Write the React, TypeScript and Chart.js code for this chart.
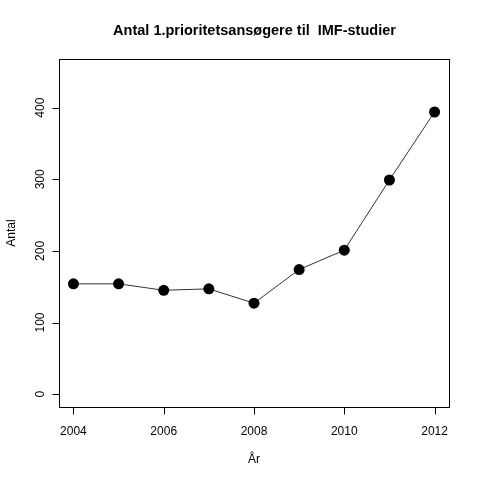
import React, { useEffect, useRef } from "react";
import { Chart, registerables } from "chart.js";

Chart.register(...registerables);

const years = [2004, 2005, 2006, 2007, 2008, 2009, 2010, 2011, 2012];
const applicants = [154, 154, 145, 147, 127, 174, 201, 299, 394];
const xTicks = [2004, 2006, 2008, 2010, 2012];
const yTicks = [0, 100, 200, 300, 400];
const title = "Antal 1.prioritetsansøgere til  IMF-studier";
const xTitle = "År";
const yTitle = "Antal";

const FONT = "'Liberation Sans', Arial, Helvetica, sans-serif";

const rAxesPlugin = {
  id: "rAxes",
  afterDraw(chart: any) {
    const { ctx, chartArea } = chart;
    const xs = chart.scales.x;
    const ys = chart.scales.y;
    ctx.save();
    ctx.strokeStyle = "#000";
    ctx.lineWidth = 1;
    ctx.strokeRect(
      Math.round(chartArea.left) + 0.5,
      Math.round(chartArea.top) + 0.5,
      Math.round(chartArea.right - chartArea.left),
      Math.round(chartArea.bottom - chartArea.top)
    );
    ctx.fillStyle = "#000";
    ctx.font = `12px ${FONT}`;
    // x axis
    const xb = Math.round(chartArea.bottom) + 0.5;
    ctx.beginPath();
    for (const t of xTicks) {
      const px = Math.round(xs.getPixelForValue(t)) + 0.5;
      ctx.moveTo(px, xb);
      ctx.lineTo(px, xb + 7);
    }
    ctx.stroke();
    ctx.textAlign = "center";
    ctx.textBaseline = "middle";
    for (const t of xTicks) {
      ctx.fillText(String(t), xs.getPixelForValue(t), xb + 24);
    }
    // y axis
    const xl = Math.round(chartArea.left) + 0.5;
    ctx.beginPath();
    for (const t of yTicks) {
      const py = Math.round(ys.getPixelForValue(t)) + 0.5;
      ctx.moveTo(xl, py);
      ctx.lineTo(xl - 7, py);
    }
    ctx.stroke();
    for (const t of yTicks) {
      ctx.save();
      ctx.translate(xl - 19, ys.getPixelForValue(t));
      ctx.rotate(-Math.PI / 2);
      ctx.fillText(String(t), 0, 0);
      ctx.restore();
    }
    // axis titles
    ctx.fillText(xTitle, (chartArea.left + chartArea.right) / 2, 460);
    ctx.save();
    ctx.translate(12, (chartArea.top + chartArea.bottom) / 2);
    ctx.rotate(-Math.PI / 2);
    ctx.fillText(yTitle, 0, 0);
    ctx.restore();
    // main title
    ctx.font = `bold 14.5px ${FONT}`;
    ctx.fillText(title, 254.5, 31);
    ctx.restore();
  },
};

export default function App() {
  const ref = useRef<HTMLCanvasElement>(null);
  useEffect(() => {
    document.body.style.margin = "0";
    const chart = new Chart(ref.current!, {
      type: "line",
      data: {
        datasets: [
          {
            data: years.map((y, i) => ({ x: y, y: applicants[i] })),
            borderColor: "#333",
            borderWidth: 1,
            pointBackgroundColor: "#000",
            pointBorderColor: "#000",
            pointRadius: 5.5,
            pointBorderWidth: 0,
            tension: 0,
          },
        ],
      },
      options: {
        responsive: false,
        animation: false,
        devicePixelRatio: 1,
        layout: { padding: { left: 59, right: 31, top: 59, bottom: 73 } },
        plugins: { legend: { display: false }, tooltip: { enabled: false } },
        scales: {
          x: { type: "linear", min: 2003.68, max: 2012.32, display: false },
          y: { type: "linear", min: -18, max: 468, display: false },
        },
      },
      plugins: [rAxesPlugin],
    });
    return () => chart.destroy();
  }, []);
  return (
    <div style={{ position: "absolute", left: 0, top: 0, width: 480, height: 480, background: "#fff" }}>
      <canvas ref={ref} width={480} height={480} />
    </div>
  );
}
